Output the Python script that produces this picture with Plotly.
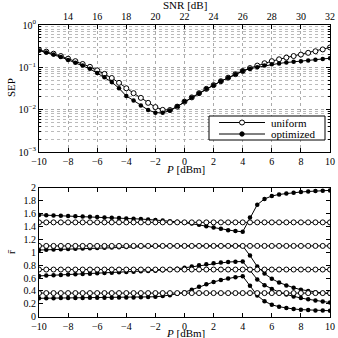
import plotly.graph_objects as go

# transmit power grid [dBm]
P = [-10 + 0.5 * i for i in range(41)]

# symbol error probability
sep_uniform = [0.26, 0.235, 0.21, 0.185, 0.16, 0.14, 0.12, 0.103, 0.085, 0.07,
               0.056, 0.043, 0.032, 0.0245, 0.019, 0.0145, 0.0115, 0.0099, 0.0098, 0.0118,
               0.0155, 0.0195, 0.0245, 0.031, 0.038, 0.047, 0.057, 0.069, 0.082, 0.096,
               0.11, 0.125, 0.14, 0.155, 0.17, 0.185, 0.2, 0.22, 0.24, 0.265, 0.295]
sep_optimized = [0.25, 0.225, 0.2, 0.175, 0.15, 0.128, 0.11, 0.092, 0.073, 0.058,
                 0.045, 0.032, 0.021, 0.0165, 0.0125, 0.0098, 0.0085, 0.0084, 0.0095, 0.012,
                 0.0155, 0.0195, 0.0245, 0.031, 0.038, 0.047, 0.057, 0.069, 0.082, 0.093,
                 0.1, 0.11, 0.118, 0.124, 0.13, 0.135, 0.14, 0.145, 0.152, 0.158, 0.164]

# constellation points r-bar
r_uniform = [0.367, 0.733, 1.1, 1.466]
r_opt_1 = [0.286, 0.287, 0.288, 0.289, 0.29, 0.291, 0.292, 0.293, 0.294, 0.295,
           0.296, 0.297, 0.298, 0.3, 0.302, 0.305, 0.31, 0.32, 0.335, 0.355,
           0.38, 0.42, 0.465, 0.505, 0.54, 0.57, 0.595, 0.615, 0.63, 0.48,
           0.33, 0.24, 0.185, 0.155, 0.135, 0.12, 0.11, 0.103, 0.098, 0.095, 0.093]
r_opt_2 = [0.634, 0.639, 0.644, 0.649, 0.654, 0.659, 0.664, 0.669, 0.674, 0.679,
           0.684, 0.689, 0.694, 0.699, 0.705, 0.71, 0.716, 0.722, 0.73, 0.745,
           0.76, 0.78, 0.8, 0.815, 0.83, 0.842, 0.85, 0.855, 0.857, 0.72,
           0.58, 0.49, 0.43, 0.38, 0.345, 0.315, 0.29, 0.27, 0.25, 0.235, 0.22]
r_opt_3 = [1.036, 1.04, 1.044, 1.048, 1.052, 1.056, 1.06, 1.064, 1.068, 1.072,
           1.076, 1.08, 1.084, 1.088, 1.092, 1.095, 1.098, 1.1, 1.1, 1.1,
           1.1, 1.1, 1.1, 1.1, 1.1, 1.1, 1.1, 1.1, 1.1, 0.95,
           0.78, 0.67, 0.59, 0.53, 0.485, 0.45, 0.42, 0.4, 0.38, 0.368, 0.358]
r_opt_4 = [1.582, 1.578, 1.574, 1.57, 1.566, 1.562, 1.558, 1.554, 1.548, 1.542,
           1.537, 1.532, 1.527, 1.522, 1.517, 1.51, 1.503, 1.495, 1.485, 1.475,
           1.462, 1.447, 1.43, 1.407, 1.385, 1.365, 1.345, 1.33, 1.32, 1.54,
           1.74, 1.83, 1.875, 1.9, 1.915, 1.928, 1.938, 1.946, 1.953, 1.958, 1.963]
r_optimized = [r_opt_1, r_opt_2, r_opt_3, r_opt_4]

snr_ticks = [14, 16, 18, 20, 22, 24, 26, 28, 30, 32]
p_ticks = [-10, -8, -6, -4, -2, 0, 2, 4, 6, 8, 10]
r_ticks = [0, 0.2, 0.4, 0.6, 0.8, 1, 1.2, 1.4, 1.6, 1.8, 2]

FONT = "Liberation Serif"
hollow = dict(symbol="circle", size=5, color="white", line=dict(color="black", width=1))
filled = dict(symbol="circle", size=4.5, color="black")
line = dict(color="black", width=1)

fig = go.Figure()

fig.add_trace(go.Scatter(x=P, y=sep_uniform, mode="lines+markers", name="uniform",
                         line=line, marker=hollow, xaxis="x", yaxis="y"))
fig.add_trace(go.Scatter(x=P, y=sep_optimized, mode="lines+markers", name="optimized",
                         line=line, marker=filled, xaxis="x", yaxis="y"))
# dummy trace so the SNR axis on top gets drawn
fig.add_trace(go.Scatter(x=[12, 32], y=[0.5, 0.5], mode="markers", marker=dict(opacity=0),
                         showlegend=False, hoverinfo="skip", xaxis="x3", yaxis="y"))

for r in r_optimized:
    fig.add_trace(go.Scatter(x=P, y=r, mode="lines+markers", line=line, marker=filled,
                             xaxis="x2", yaxis="y2"))
for v in r_uniform:
    fig.add_trace(go.Scatter(x=P, y=[v] * len(P), mode="lines+markers", line=line, marker=hollow,
                             xaxis="x2", yaxis="y2"))

axis_common = dict(showline=True, linecolor="black", linewidth=1, ticks="inside", ticklen=4,
                   tickcolor="black", tickfont=dict(size=10, color="black"), zeroline=False,
                   automargin=False)
minor_log = [k * 10 ** e for e in (-3, -2, -1) for k in range(2, 10)]

# pixel positions -> paper coords
W, H, L, R = 338, 338, 39, 8
def px(x):
    return (x - L) / (W - L - R)
def py(y):
    return 1 - y / H

# hand-made compact legend
shapes = [dict(type="rect", xref="paper", yref="paper", x0=px(209), x1=px(325), y0=py(140), y1=py(116),
               line=dict(color="black", width=1), fillcolor="white", layer="above")]
annotations = []
for yy, name, mk in [(122.5, "uniform", "hollow"), (134, "optimized", "filled")]:
    shapes.append(dict(type="line", xref="paper", yref="paper", x0=px(219), x1=px(265),
                       y0=py(yy), y1=py(yy), line=dict(color="black", width=1), layer="above"))
    r = 2.5 if mk == "hollow" else 2.2
    shapes.append(dict(type="circle", xref="paper", yref="paper", xsizemode="pixel", ysizemode="pixel",
                       xanchor=px(242), yanchor=py(yy), x0=-r, x1=r, y0=-r, y1=r,
                       line=dict(color="black", width=1),
                       fillcolor="white" if mk == "hollow" else "black", layer="above"))
    annotations.append(dict(xref="paper", yref="paper", x=px(269), y=py(yy), text=name,
                            xanchor="left", yanchor="middle", showarrow=False,
                            font=dict(family=FONT, size=11, color="black")))

# axis titles
for x, y, text, ang in [(185, 5, "SNR [dB]", 0), (185, 169, "<i>P</i> [dBm]", 0),
                        (185, 332.5, "<i>P</i> [dBm]", 0), (11, 88, "SEP", -90),
                        (11, 252, "r̄", -90)]:
    annotations.append(dict(xref="paper", yref="paper", x=px(x), y=py(y), text=text,
                            textangle=ang, xanchor="center", yanchor="middle", showarrow=False,
                            font=dict(family=FONT, size=11, color="black")))

fig.update_layout(
    width=W, height=H,
    margin=dict(l=L, r=R, t=0, b=0),
    paper_bgcolor="white", plot_bgcolor="white",
    font=dict(family=FONT, size=11, color="black"),
    showlegend=False,
    shapes=shapes, annotations=annotations,
    xaxis=dict(axis_common, domain=[0, 1], range=[-10, 10], tickvals=p_ticks, anchor="y",
               showgrid=True, gridcolor="#aaa", griddash="dot", gridwidth=0.7),
    xaxis3=dict(axis_common, overlaying="x", side="top", range=[12, 32], tickvals=snr_ticks,
                anchor="y", showgrid=False),
    yaxis=dict(axis_common, type="log", range=[-3, 0], domain=[0.5503, 0.926], anchor="x",
               mirror="ticks", tickvals=[1e-3, 1e-2, 1e-1, 1],
               ticktext=["10<sup>−3</sup>", "10<sup>−2</sup>", "10<sup>−1</sup>", "10<sup>0</sup>"],
               showgrid=True, gridcolor="#aaa", griddash="dot", gridwidth=0.7,
               minor=dict(tickvals=minor_log, showgrid=True, gridcolor="#bbb", griddash="dot",
                          gridwidth=0.6, ticks="inside", ticklen=2, tickcolor="black")),
    xaxis2=dict(axis_common, domain=[0, 1], range=[-10, 10], tickvals=p_ticks, anchor="y2",
                mirror="ticks", showgrid=False),
    yaxis2=dict(axis_common, domain=[0.063, 0.4438], range=[0, 2], tickvals=r_ticks,
                ticktext=[("%g" % t) for t in r_ticks], anchor="x2", mirror="ticks",
                showgrid=False),
)

fig.write_html("out.html", config={"displayModeBar": False},
               post_script="document.body.style.margin='0';")
